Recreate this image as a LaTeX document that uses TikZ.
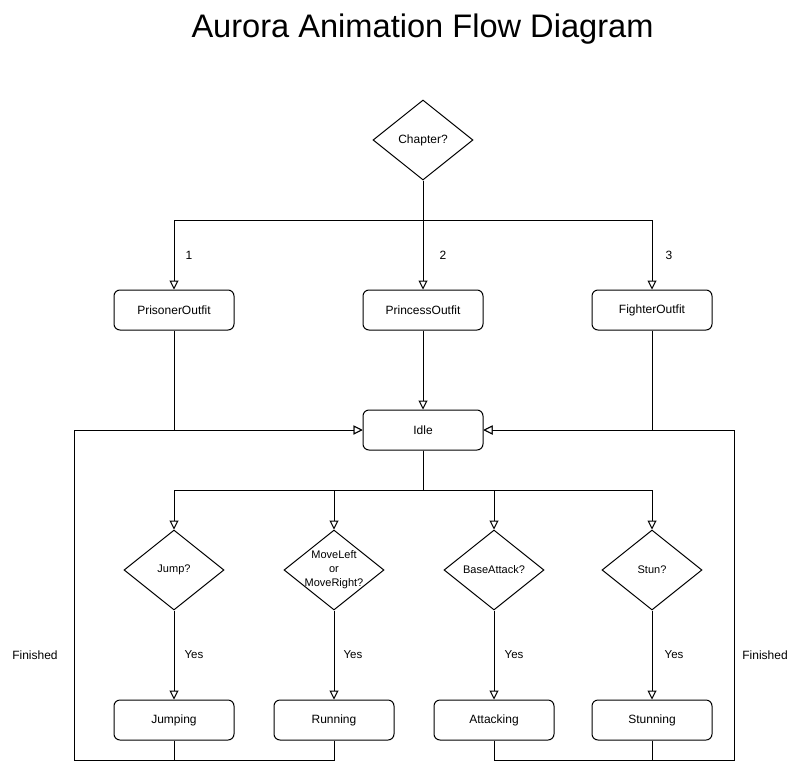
\documentclass[tikz,border=0pt]{standalone}
\usepackage{fontspec}
\setmainfont{Liberation Sans}
\usetikzlibrary{arrows.meta,shapes.geometric}
\tikzset{
  every picture/.style={x=1pt,y=-1pt},
  box/.style={draw,line width=1pt,rounded corners=6pt,minimum width=120pt,minimum height=40pt,inner sep=0pt,font=\fontsize{12}{14}\selectfont},
  dec/.style={draw,line width=1pt,diamond,aspect=1.25,minimum width=100pt,minimum height=80pt,inner sep=0pt,font=\fontsize{11}{13}\selectfont},
  arr/.style={line width=1pt,-{Triangle[open,length=9pt,width=9pt,fill=white]}},
  ln/.style={line width=1pt},
  lbl/.style={font=\fontsize{12}{14}\selectfont,inner sep=0pt},
  lbls/.style={font=\fontsize{11.5}{13}\selectfont,inner sep=0pt}
}
\begin{document}
\begin{tikzpicture}
\useasboundingbox (0,0) rectangle (800,771);
\node[font=\fontsize{32.6}{38}\selectfont,inner sep=0pt,anchor=base] (title) at (422.5,37) {Aurora Animation Flow Diagram};

\node[dec,font=\fontsize{12}{14}\selectfont] (chap) at (423,140) {Chapter?};
\node[box] (pris) at (174,310) {PrisonerOutfit};
\node[box] (prin) at (423,310) {PrincessOutfit};
\node[box] (figh) at (652,310) {FighterOutfit};
\node[box] (idle) at (423,430) {Idle};

\node[dec] (jump) at (174,570) {Jump?};
\node[dec,label={[align=center,font=\fontsize{11}{14}\selectfont,inner sep=0pt]center:MoveLeft\\or\\MoveRight?}] (move) at (334,570) {};
\node[dec] (batt) at (494,570) {BaseAttack?};
\node[dec] (stun) at (652,570) {Stun?};

\node[box] (jmpg) at (174,720) {Jumping};
\node[box] (runn) at (334,720) {Running};
\node[box] (atkg) at (494,720) {Attacking};
\node[box] (stng) at (652,720) {Stunning};

\coordinate (lb) at (74,760);
\coordinate (lt) at (74,430);
\coordinate (rb) at (734,760);
\coordinate (rt) at (734,430);

% chapter branches
\draw[arr] (chap.south) -- ++(0,40) -| (pris.north);
\draw[arr] (chap.south) -- (prin.north);
\draw[arr] (chap.south) -- ++(0,40) -| (figh.north);
\node[lbl] (n1) at (189,255) {1};
\node[lbl] (n2) at (443,255) {2};
\node[lbl] (n3) at (669,255) {3};

% outfits to idle
\draw[arr] (pris.south) |- (idle.west);
\draw[arr] (prin.south) -- (idle.north);
\draw[arr] (figh.south) |- (idle.east);

% idle to decisions
\draw[arr] (idle.south) -- ++(0,40) -| (jump.north);
\draw[arr] (idle.south) -- ++(0,40) -| (move.north);
\draw[arr] (idle.south) -- ++(0,40) -| (batt.north);
\draw[arr] (idle.south) -- ++(0,40) -| (stun.north);

% decisions to actions
\draw[arr] (jump.south) -- (jmpg.north);
\draw[arr] (move.south) -- (runn.north);
\draw[arr] (batt.south) -- (atkg.north);
\draw[arr] (stun.south) -- (stng.north);
\node[lbls] (y1) at (194,655) {Yes};
\node[lbls] (y2) at (353,655) {Yes};
\node[lbls] (y3) at (514,655) {Yes};
\node[lbls] (y4) at (674,655) {Yes};

% finished loops
\draw[arr] (jmpg.south) |- (lb) -- (lt) -- (idle.west);
\draw[ln] (runn.south) |- (lb);
\draw[arr] (stng.south) |- (rb) -- (rt) -- (idle.east);
\draw[ln] (atkg.south) |- (rb);
\node[lbl] (f1) at (35,655) {Finished};
\node[lbl] (f2) at (765,655) {Finished};
\end{tikzpicture}
\end{document}
